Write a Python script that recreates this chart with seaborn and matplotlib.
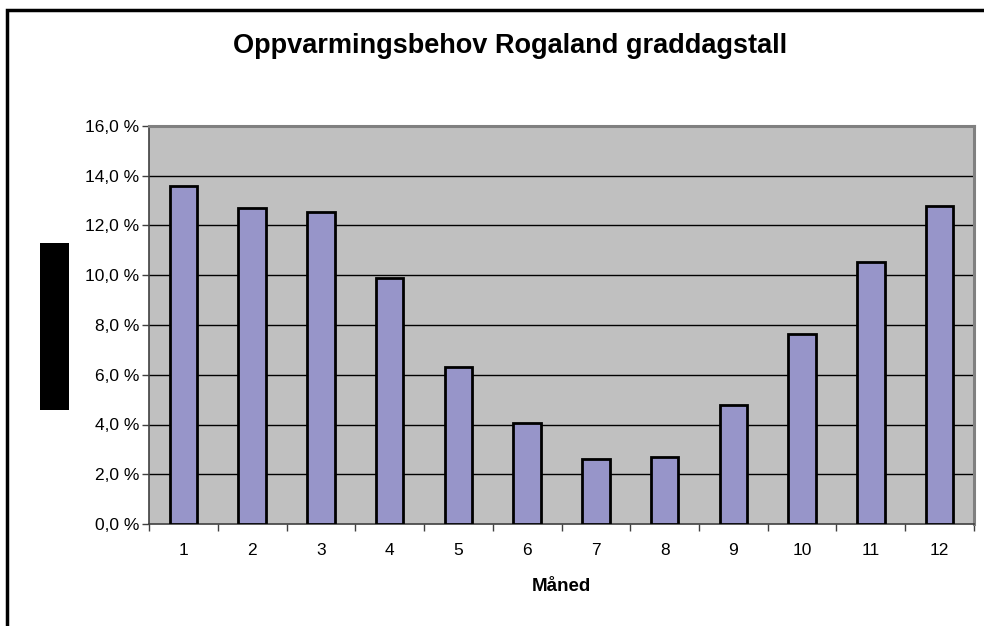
import matplotlib
matplotlib.use("Agg")
import matplotlib.pyplot as plt
from matplotlib.patches import Rectangle
from matplotlib.ticker import FixedLocator, FuncFormatter
import seaborn as sns
import pandas as pd

months = [1, 2, 3, 4, 5, 6, 7, 8, 9, 10, 11, 12]
share = [13.58, 12.70, 12.53, 9.87, 6.33, 4.08, 2.61, 2.71, 4.79, 7.62, 10.55, 12.79]
y_ticks = [0, 2, 4, 6, 8, 10, 12, 14, 16]

df = pd.DataFrame({"Måned": [str(m) for m in months], "Andel": share})

sns.set_theme(style="white")
plt.rcParams["font.family"] = ["Liberation Sans", "DejaVu Sans"]

W, H = 984, 626
fig = plt.figure(figsize=(W / 100, H / 100), dpi=100)
fig.patch.set_facecolor("white")

# plot area in pixel coordinates
left, right, top, bottom = 149, 974, 126, 524
ax = fig.add_axes([left / W, 1 - bottom / H, (right - left) / W, (bottom - top) / H])
ax.set_facecolor("#C0C0C0")

sns.barplot(data=df, x="Måned", y="Andel", ax=ax, color="#9999CC",
            saturation=1, width=0.4, edgecolor="black", linewidth=2, zorder=3)
for p in ax.patches:
    p.set_facecolor("#9795C9")

ax.set_ylim(0, 16)
ax.set_xlim(-0.5, len(months) - 0.5)
ax.yaxis.set_major_locator(FixedLocator(y_ticks))
ax.yaxis.set_major_formatter(FuncFormatter(lambda v, _: f"{v:.1f}".replace(".", ",") + " %"))
for t in y_ticks[1:-1]:
    ax.axhline(t, color="black", linewidth=1, zorder=1)

ax.tick_params(axis="y", which="major", direction="out", length=5, width=1,
               color="#404040", labelsize=12.5, pad=2, left=True)
ax.tick_params(axis="x", which="major", length=0, labelsize=12.5, pad=14)
ax.xaxis.set_minor_locator(FixedLocator([i - 0.5 for i in range(len(months) + 1)]))
ax.tick_params(axis="x", which="minor", direction="out", length=5, width=1,
               color="#404040", bottom=True)
for lab in ax.get_yticklabels() + ax.get_xticklabels():
    lab.set_color("black")

for side in ["left", "bottom"]:
    ax.spines[side].set_color("#404040")
    ax.spines[side].set_linewidth(1.2)
for side in ["top", "right"]:
    ax.spines[side].set_color("#808080")
    ax.spines[side].set_linewidth(2.2)

ax.set_ylabel("")
ax.set_xlabel("Måned", fontsize=13.5, fontweight="bold", labelpad=14, color="black")

fig.text(510 / W, 1 - 46 / H, "Oppvarmingsbehov Rogaland graddagstall",
         ha="center", va="center", fontsize=19.5, fontweight="bold", color="black")

# outer chart frame and the filled block beside the value axis
fig.patches.append(Rectangle((7 / W, -0.1), 1.2, 1 - 10 / H + 0.1, transform=fig.transFigure,
                             fill=False, edgecolor="black", linewidth=2.5))
fig.patches.append(Rectangle((40 / W, 1 - 410 / H), 29 / W, 167 / H,
                             transform=fig.transFigure, facecolor="black", edgecolor="none"))

fig.savefig("out.png", dpi=100, facecolor="white")
